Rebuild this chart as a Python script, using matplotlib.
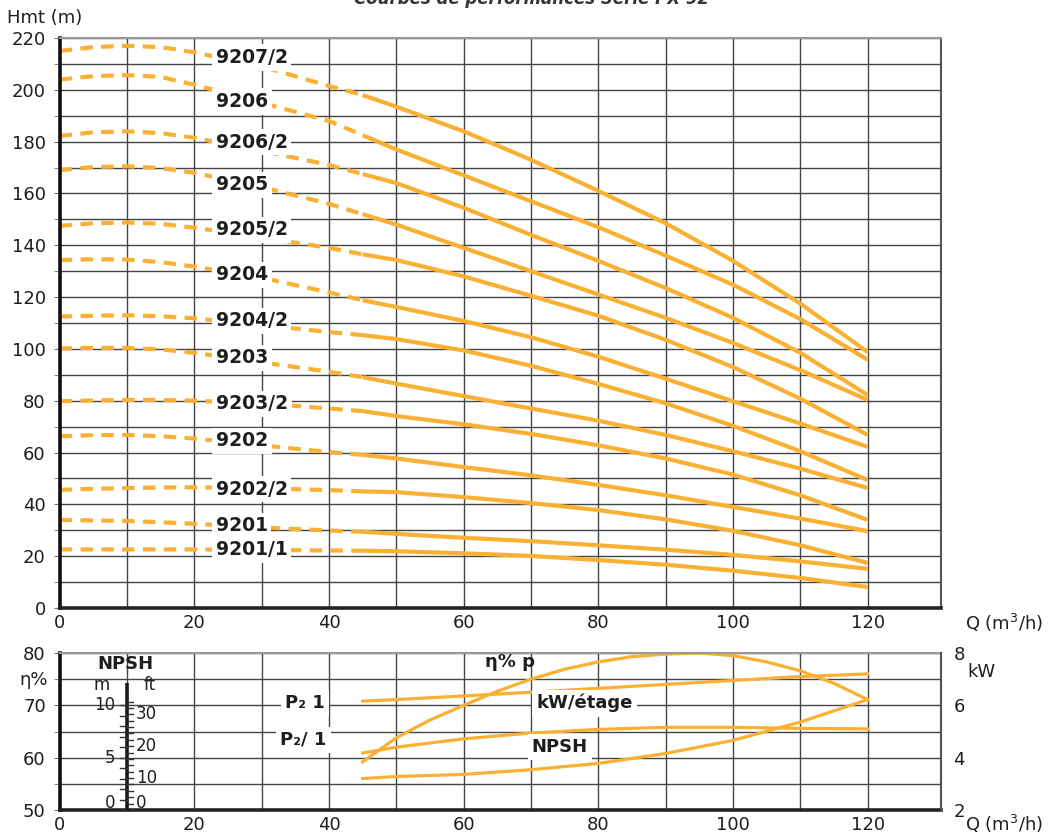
import matplotlib.pyplot as plt

ORANGE = '#FAB032'
GRID = '#444444'
INK = '#1e1e1e'

# pump models, top to bottom
models = ['9207/2', '9206', '9206/2', '9205', '9205/2', '9204', '9204/2',
          '9203', '9203/2', '9202', '9202/2', '9201', '9201/1']

# flow points (m3/h): dashed part (outside the operating range) and solid part
q_low = [0, 5, 10, 15, 20, 30, 40, 45]
q_run = [45, 50, 60, 70, 80, 90, 100, 110, 120]

head_low = [
    [215, 216.5, 217, 216.5, 214.5, 209, 201.5, 198],
    [204, 205.3, 205.7, 205, 202, 195, 188, 182.5],
    [182.2, 183.6, 184, 183.3, 181.5, 176.5, 171, 167.5],
    [169, 170.2, 170.5, 169.8, 168, 162.5, 156, 152],
    [147.5, 148.5, 148.8, 148.3, 146.8, 143, 139, 136.5],
    [134.3, 134.6, 134.5, 133.5, 131.8, 127.5, 121.8, 118.8],
    [112.5, 112.8, 113, 112.6, 111.8, 109.3, 106.5, 105.3],
    [100.2, 100.4, 100.4, 99.8, 98.5, 94.8, 91.2, 89.1],
    [79.8, 80.1, 80.3, 80.3, 80, 79, 77, 76],
    [66.3, 66.7, 66.8, 66.3, 65.4, 62.8, 60.2, 59.1],
    [45.6, 46, 46.3, 46.5, 46.6, 46.2, 45.5, 45],
    [34, 33.8, 33.6, 33.1, 32.5, 31.1, 29.9, 29.4],
    [22.6, 22.6, 22.6, 22.6, 22.6, 22.4, 22.2, 22.1],
]

head_run = [
    [198, 193.5, 184, 173, 161, 148.5, 134, 117.5, 98.8],
    [182.5, 177, 167, 157, 147, 136, 124.8, 111.5, 95.8],
    [167.5, 164, 154.5, 144, 134, 123.5, 112, 98.5, 82.2],
    [152, 148, 139, 130, 121, 112, 102.3, 91.8, 80.3],
    [136.5, 134.3, 128, 120.5, 112.8, 103.5, 93, 80.8, 66.8],
    [118.8, 116.2, 110.8, 104.5, 97, 88.5, 79.8, 71.2, 62.2],
    [105.3, 103.8, 99.4, 93.5, 86.5, 79, 70.3, 60.5, 49.4],
    [89.1, 86.6, 81.8, 77, 72.3, 66.8, 60.5, 53.8, 46.3],
    [76, 74.1, 70.9, 67.2, 62.8, 57.7, 51.5, 43.5, 34],
    [59.1, 57.7, 54.4, 51.2, 47.5, 43.5, 39, 34.5, 29.7],
    [45, 44.7, 42.8, 40.5, 37.8, 34.2, 29.8, 24.2, 17.4],
    [29.4, 28.6, 27.1, 25.8, 24.2, 22.5, 20.5, 18, 15.1],
    [22.1, 21.9, 21.1, 20.1, 18.5, 16.7, 14.4, 11.6, 8.1],
]

label_h = [212.5, 195.5, 179.8, 163.3, 146, 128.6, 110.9, 96.6, 78.8,
           64.6, 45.9, 31.7, 22.4]

# lower panel
q_eta = [45, 50, 55, 60, 65, 70, 75, 80, 85, 90, 95, 100, 105, 110, 115, 120]
eta = [59.2, 63.8, 67.2, 70, 72.7, 75, 76.9, 78.3, 79.3, 79.8, 80, 79.5,
       78.3, 76.6, 74.2, 71.1]

q_perf = [45, 50, 60, 70, 80, 90, 100, 110, 120]
kw_p2_1 = [6.16, 6.22, 6.36, 6.5, 6.65, 6.8, 6.95, 7.1, 7.2]
kw_p2_half = [4.18, 4.4, 4.72, 4.94, 5.08, 5.16, 5.16, 5.12, 5.1]
npsh_m = [3.0, 3.2, 3.4, 3.85, 4.45, 5.4, 6.65, 8.4, 10.55]

npsh_m_ticks = list(range(0, 11))
npsh_m_labels = [0, 5, 10]
npsh_ft_ticks = list(range(0, 35, 2))
npsh_ft_labels = [0, 10, 20, 30]
FT = 0.3048

XMAX = 130.9
TICK_FS = 13


def style_axes(a):
    a.set_xlim(0, XMAX)
    a.set_xticks(range(0, 121, 20))
    a.set_xticks(range(10, 121, 20), minor=True)
    a.grid(True, which='both', color=GRID, lw=1.0)
    a.tick_params(axis='x', which='both', length=0, labelsize=TICK_FS,
                  pad=4, labelcolor=INK)
    a.tick_params(axis='y', which='both', length=4, color='#777',
                  labelsize=TICK_FS, pad=6, labelcolor=INK)
    a.spines['left'].set_linewidth(2.6)
    a.spines['left'].set_color('#111')
    a.spines['bottom'].set_linewidth(2.6)
    a.spines['bottom'].set_color('#222')
    a.spines['top'].set_linewidth(1.5)
    a.spines['top'].set_color('#9a9a9a')
    a.spines['right'].set_linewidth(1.5)
    a.spines['right'].set_color('#555')
    a.set_axisbelow(True)


fig = plt.figure(figsize=(10.5, 8.34), dpi=100)

# ---- head curves
ax = fig.add_axes([0.0568, 0.271, 0.8394, 0.6834])
style_axes(ax)
ax.set_ylim(0, 220)
ax.set_yticks(range(0, 221, 20))
ax.set_yticks(range(10, 220, 20), minor=True)

for name, hl, hr, ly in zip(models, head_low, head_run, label_h):
    ax.plot(q_low, hl, color=ORANGE, lw=3, dashes=(3, 2),
            dash_capstyle='butt')
    ax.plot(q_run, hr, color=ORANGE, lw=3, solid_capstyle='butt')
    ax.text(23.2, ly, name, fontsize=13.5, fontweight='bold', ha='left',
            va='center', color=INK, zorder=5,
            bbox=dict(facecolor='white', edgecolor='none', pad=2.5))

# ---- efficiency / power / NPSH
ax2 = fig.add_axes([0.0568, 0.0288, 0.8394, 0.1882])
style_axes(ax2)
ax2.set_ylim(50, 80)
ax2.set_yticks([50, 60, 70, 80])
ax2.set_yticks([55, 65, 75], minor=True)

kw = ax2.twinx()
kw.set_ylim(2, 8)
kw.set_yticks([2, 4, 6, 8])
kw.tick_params(axis='y', length=0, labelsize=TICK_FS, pad=9, labelcolor=INK)
for s in ['left', 'top', 'bottom']:
    kw.spines[s].set_visible(False)
kw.spines['right'].set_color('#555')
kw.spines['right'].set_linewidth(1.5)

npsh = ax2.twinx()
npsh.set_ylim(0, 15)
npsh.axis('off')

ax2.plot(q_eta, eta, color=ORANGE, lw=2.3)
kw.plot(q_perf, kw_p2_1, color=ORANGE, lw=2.3)
kw.plot(q_perf, kw_p2_half, color=ORANGE, lw=2.3)
npsh.plot(q_perf, npsh_m, color=ORANGE, lw=2.3)

# NPSH scale drawn on the x = 10 gridline
npsh.plot([10, 10], [0, 12.15], color='#1a1a1a', lw=2.6, solid_capstyle='butt')
for m in npsh_m_ticks:
    npsh.plot([9.0, 10], [m, m], color='#333', lw=1.0)
for f in npsh_ft_ticks:
    npsh.plot([10, 10.9], [f * FT, f * FT], color='#333', lw=1.0)
for m in npsh_m_labels:
    npsh.text(8.3, max(m, 0.7), str(m), ha='right', va='center',
              fontsize=12, color=INK)
for f in npsh_ft_labels:
    npsh.text(11.3, max(f * FT, 0.7), str(f), ha='left', va='center',
              fontsize=12, color=INK)
npsh.text(6.3, 11.9, 'm', ha='center', va='center', fontsize=12, color=INK)
npsh.text(13.3, 11.9, 'ft', ha='center', va='center', fontsize=12, color=INK)
npsh.text(9.7, 13.95, 'NPSH', ha='center', va='center', fontsize=13,
          fontweight='bold', color=INK)

box = dict(facecolor='white', edgecolor='none', pad=3)
lab = dict(fontsize=13, fontweight='bold', color=INK, ha='center',
           va='center', transform=ax2.transData, zorder=6)
npsh.text(36.4, 70.4, 'P\u2082 1', bbox=box, **lab)
npsh.text(36.2, 63.4, 'P\u2082/ 1', bbox=box, **lab)
npsh.text(66.9, 78.3, '\u03b7% p', **lab)
npsh.text(78.0, 70.4, 'kW/étage', bbox=box, **lab)
npsh.text(74.3, 62.0, 'NPSH', bbox=box, **lab)

# ---- free texts
fig.text(0.5067, 0.9952, 'Courbes de performances Série PX 92',
         ha='center', va='baseline', fontsize=12, fontstyle='italic',
         fontweight='bold', color='#333')
fig.text(0.007, 0.978, 'Hmt (m)', ha='left', va='center', fontsize=TICK_FS,
         color=INK)
fig.text(0.919, 0.253, 'Q (m$^3$/h)', ha='left', va='center',
         fontsize=TICK_FS, color=INK)
fig.text(0.919, 0.0125, 'Q (m$^3$/h)', ha='left', va='center',
         fontsize=TICK_FS, color=INK)
fig.text(0.921, 0.194, 'kW', ha='left', va='center', fontsize=TICK_FS,
         color=INK)
fig.text(0.046, 0.185, '\u03b7%', ha='right', va='center', fontsize=TICK_FS,
         color=INK)

fig.savefig('out.png', dpi=100)
